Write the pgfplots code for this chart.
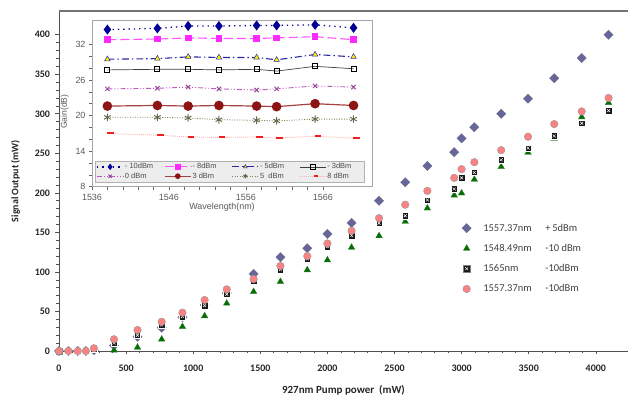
\documentclass[border=0pt]{standalone}
\usepackage{pgfplots}
\usepackage{pgfplotstable}
\pgfplotsset{compat=1.18}
\usepackage{fontspec}
\setmainfont{Carlito}
\newfontfamily\insetfont{Liberation Sans}

\definecolor{dia}{RGB}{102,102,153}
\definecolor{tri}{RGB}{0,112,0}
\definecolor{circ}{RGB}{250,130,130}
\definecolor{axgray}{RGB}{80,80,80}
\definecolor{navyb}{RGB}{0,0,150}
\definecolor{magb}{RGB}{255,40,255}
\definecolor{blued}{RGB}{40,40,160}
\definecolor{orch}{RGB}{190,90,190}
\definecolor{maroonb}{RGB}{140,20,20}
\definecolor{oliveb}{RGB}{130,130,95}
\definecolor{redb}{RGB}{240,30,30}

\pgfdeclareplotmark{sqx}{%
  \pgfpathrectangle{\pgfpoint{-\pgfplotmarksize}{-\pgfplotmarksize}}{\pgfpoint{2\pgfplotmarksize}{2\pgfplotmarksize}}%
  \pgfusepathqfillstroke
  \pgfsetstrokecolor{white}\pgfsetlinewidth{0.5pt}%
  \pgfpathmoveto{\pgfpoint{-0.45\pgfplotmarksize}{-0.45\pgfplotmarksize}}%
  \pgfpathlineto{\pgfpoint{0.45\pgfplotmarksize}{0.45\pgfplotmarksize}}%
  \pgfpathmoveto{\pgfpoint{-0.45\pgfplotmarksize}{0.45\pgfplotmarksize}}%
  \pgfpathlineto{\pgfpoint{0.45\pgfplotmarksize}{-0.45\pgfplotmarksize}}%
  \pgfusepathqstroke
}

\pgfplotstableread{
P dia tri sq circ
0 0 0 0 0
70 0 0 0 0
140 0 0 0 0
200 0 0 0 0
260 1 0.5 2 3.5
410 7 1 10 14.8
585 18 4.6 20 26.6
765 29.5 14.8 33 37
920 42.6 30.8 43.5 48.5
1085 58 44.3 57.4 64.5
1250 73 60.3 71.7 78
1450 97.5 75 89 91
1650 118.6 87.7 103 107.6
1850 130 102.5 116.5 120
2000 148 115 132 136
2180 162 131 146 152
2385 190 145.6 161.6 168
2580 213.5 163.7 171 185
2745 234 180.6 191 202.5
2945 251.5 197 205 219
3000 269 199.6 219 230
3095 283 217 225.7 238.8
3295 300 233 241.8 254
3495 319 251 256.6 271
3690 345 268.7 272 287
3895 370.5 296 288 303
4095 400 314 304 320
}\maindata

\pgfplotstableread{
wl m10 m8 m5 m3 z0 p3 p5 p8
1538 34.5 32.8 29.5 27.7 24.5 21.6 19.7 17.0
1544.5 34.7 32.9 29.6 27.8 24.6 21.7 19.7 16.7
1548.5 35.1 33.1 29.9 27.8 24.8 21.6 19.6 16.4
1552.5 35.1 33.0 29.8 27.7 24.5 21.7 19.3 16.3
1557.4 35.2 33.0 29.8 27.8 24.3 21.6 19.2 16.4
1560 35.2 33.1 29.4 27.5 24.5 21.5 19.1 16.2
1565 35.3 33.3 30.3 28.3 25.0 22.0 19.4 16.5
1570 34.8 32.8 29.9 27.9 24.8 21.7 19.4 16.2
}\gaindata

\begin{document}
\begin{tikzpicture}
\useasboundingbox (0,0) rectangle (628bp,398bp);
% main axis
\begin{axis}[
  at={(59bp,47bp)}, anchor=south west,
  scale only axis, width=569bp, height=340bp,
  xmin=0, xmax=4240, ymin=0, ymax=430,
  axis lines*=left,
  axis line style={axgray, line width=1pt, -},
  xtick={0,500,...,4000}, ytick={0,50,...,400},
  minor x tick num=4, minor y tick num=4,
  tick align=outside,
  major tick length=3.5bp, minor tick length=2.5bp,
  every tick/.style={axgray, line width=0.6pt},
  /pgf/number format/assume math mode=true,
  /pgf/number format/set thousands separator={},
  ticklabel style={font=\fontsize{10}{12}\selectfont\bfseries, text=black!85},
  xticklabel style={yshift=-7bp},
  yticklabel style={xshift=-2bp},
  xlabel={927nm Pump power~~(mW)},
  ylabel={Signal Output (mW)},
  xlabel style={font=\fontsize{11}{13}\selectfont\bfseries, text=black!85, yshift=-7bp},
  ylabel style={font=\fontsize{10}{12}\selectfont\bfseries, text=black!85, yshift=8bp},
  clip=false,
  legend style={at={(rel axis cs:0.7,0.385)}, anchor=north west, draw=none, fill=none,
    font=\fontsize{10.5}{12}\selectfont, text=black!75, row sep=8.5bp,
    nodes={inner sep=1.5bp}},
  legend cell align=left,
  legend image code/.code={\path[#1] plot coordinates {(6bp,0bp)}; \path (0bp,0bp) (21bp,0bp);},
]
\draw[axgray!80, line width=1.2pt] (rel axis cs:0,1) -- (rel axis cs:1.02,1);
\addplot[only marks, mark=square*, mark size=3.3bp, mark options={rotate=45}, fill=dia, draw=dia!70!gray, line width=0.3pt] table[x=P,y=dia]{\maindata};
\addlegendentry{\makebox[62bp][l]{1557.37nm}+\,5dBm}
\addplot[only marks, mark=triangle*, mark size=3.8bp, fill=tri, draw=tri!60!gray, line width=0.3pt] table[x=P,y=tri]{\maindata};
\addlegendentry{\makebox[62bp][l]{1548.49nm}-10 dBm}
\addplot[only marks, mark=sqx, mark size=3.2bp, fill=black!90, draw=gray, line width=0.4pt] table[x=P,y=sq]{\maindata};
\addlegendentry{\makebox[62bp][l]{1565nm}-10dBm}
\addplot[only marks, mark=*, mark size=3.8bp, fill=circ, draw=gray!80, line width=0.4pt] table[x=P,y=circ]{\maindata};
\addlegendentry{\makebox[62bp][l]{1557.37nm}-10dBm}
\end{axis}

% inset
\begin{axis}[
  at={(92bp,211.3bp)}, anchor=south west,
  scale only axis, width=280bp, height=166bp,
  xmin=1536, xmax=1572.4, ymin=8, ymax=36,
  axis background/.style={fill=white},
  axis line style={gray!70, line width=0.6pt},
  xtick={1536,1546,1556,1566}, ytick={8,14,...,32},
  minor x tick num=4, minor y tick num=2,
  tick align=outside, xtick pos=bottom, ytick pos=left,
  major tick length=3bp, minor tick length=3bp,
  every tick/.style={gray!80!black, line width=0.5pt},
  /pgf/number format/assume math mode=true,
  /pgf/number format/set thousands separator={},
  ticklabel style={font=\insetfont\fontsize{9}{10}\selectfont, text=black!65},
  xticklabel style={yshift=-1bp},
  xlabel={Wavelength(nm)}, ylabel={Gain(dB)},
  xlabel style={font=\insetfont\fontsize{9}{10}\selectfont, text=black!65, yshift=4bp, xshift=-10bp},
  ylabel style={font=\insetfont\fontsize{8.5}{10}\selectfont, text=black!65, yshift=0bp, xshift=-8bp},
  legend columns=4,
  legend style={at={(rel axis cs:0.01,0.025)}, anchor=south west,
    draw=gray!60, fill=gray!14, font=\insetfont\fontsize{7.5}{8}\selectfont, text=black!70,
    inner sep=1.5bp, row sep=0pt, column sep=0pt,
    nodes={inner sep=1.2bp}},
  legend image code/.code={\draw[mark repeat=2,mark phase=2,#1,mark size=2.2bp] plot coordinates {(0bp,0bp) (13bp,0bp) (26bp,0bp)};},
]
\addplot[navyb, line width=1.3pt, dash pattern=on 1.3pt off 4pt, mark=diamond*, mark size=4bp, mark options={solid, fill=navyb, draw=navyb}] table[x=wl,y=m10]{\gaindata};
\addlegendentry{\makebox[38bp][l]{- 10dBm}}
\addplot[magb!80, line width=1.1pt, dash pattern=on 9pt off 4pt, mark=square*, mark size=2.8bp, mark options={solid, fill=magb, draw=magb}] table[x=wl,y=m8]{\gaindata};
\addlegendentry{\makebox[38bp][l]{- 8dBm}}
\addplot[blued, line width=1.1pt, dash pattern=on 7pt off 3pt on 1.5pt off 3pt, mark=triangle*, mark size=3.2bp, mark options={solid, fill=yellow, draw=blued, line width=0.5pt}] table[x=wl,y=m5]{\gaindata};
\addlegendentry{\makebox[38bp][l]{- 5dBm}}
\addplot[black!75, line width=0.7pt, mark=square, mark size=2.5bp, mark options={solid, fill=white, draw=black, line width=0.8pt}] table[x=wl,y=m3]{\gaindata};
\addlegendentry{\makebox[34bp][l]{- 3dBm}}
\addplot[orch, line width=0.9pt, dash pattern=on 5pt off 2pt on 1pt off 2pt on 1pt off 2pt, mark=x, mark size=3bp, mark options={solid, draw=orch!80!black, line width=1pt}] table[x=wl,y=z0]{\gaindata};
\addlegendentry{\makebox[38bp][l]{0 dBm}}
\addplot[maroonb!80, line width=1.2pt, mark=*, mark size=4.2bp, mark options={solid, fill=maroonb, draw=maroonb}] table[x=wl,y=p3]{\gaindata};
\addlegendentry{\makebox[38bp][l]{3 dBm}}
\addplot[oliveb, line width=0.8pt, dash pattern=on 1pt off 1.5pt, mark=asterisk, mark size=3.8bp, mark options={solid, draw=oliveb!80!black, line width=0.9pt}] table[x=wl,y=p5]{\gaindata};
\addlegendentry{\makebox[38bp][l]{5~~dBm}}
\addplot[red!30, line width=0.9pt, dash pattern=on 1pt off 1pt, mark=-, mark size=3.2bp, mark options={solid, draw=redb, line width=2pt, xshift=3bp}] table[x=wl,y=p8]{\gaindata};
\addlegendentry{\makebox[34bp][l]{8 dBm}}
\end{axis}
\end{tikzpicture}
\end{document}
